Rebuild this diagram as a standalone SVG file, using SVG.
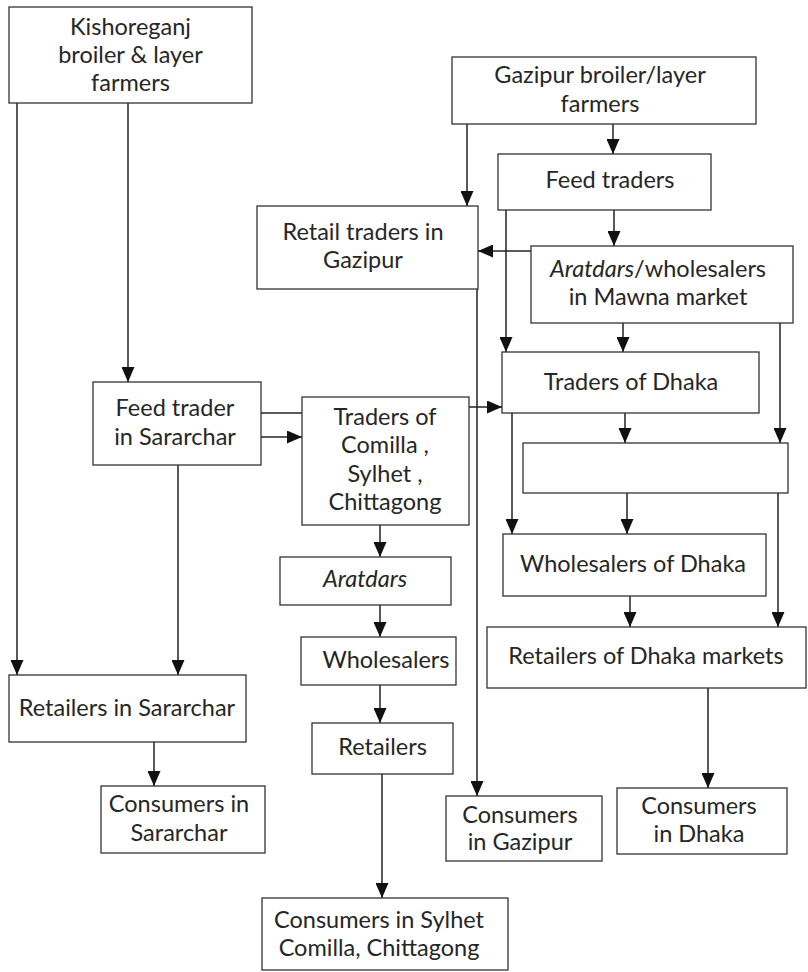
<svg xmlns="http://www.w3.org/2000/svg" width="808" height="972" viewBox="0 0 808 972">
  <style>
    .box { fill: #ffffff; stroke: #333333; stroke-width: 1.3; }
    .lbl { font-family: Lato, "Open Sans", "Liberation Sans", sans-serif; font-weight: 400; font-size: 23.5px; fill: #262626; text-anchor: middle; }
    .it { font-style: italic; }
    .link { fill: none; stroke: #222222; stroke-width: 1.5; }
    .arr { marker-end: url(#head); }
  </style>
  <defs>
    <marker id="head" markerUnits="userSpaceOnUse" markerWidth="15" markerHeight="13" refX="15" refY="6.5" orient="auto">
      <path d="M0,0 L15,6.5 L0,13 z" fill="#111111"/>
    </marker>
  </defs>
  <rect width="808" height="972" fill="#ffffff"/>

  <!-- connectors -->
  <g id="connectors">
    <path class="link arr" d="M17,103 V675"/>
    <path class="link arr" d="M128,103 V382"/>
    <path class="link arr" d="M178,465 V675"/>
    <path class="link arr" d="M261,437 H302"/>
    <path class="link" d="M261,413 H302"/>
    <path class="link arr" d="M469,407 H502"/>
    <path class="link arr" d="M380,525 V557"/>
    <path class="link arr" d="M380,605 V637"/>
    <path class="link arr" d="M380,685 V723"/>
    <path class="link arr" d="M382,774 V898"/>
    <path class="link arr" d="M154,742 V786"/>
    <path class="link arr" d="M467,124 V206"/>
    <path class="link arr" d="M613,124 V154"/>
    <path class="link arr" d="M506,210 V352"/>
    <path class="link arr" d="M614,210 V246"/>
    <path class="link arr" d="M531,251 H478"/>
    <path class="link arr" d="M477,289 V796"/>
    <path class="link arr" d="M623,323 V352"/>
    <path class="link arr" d="M780,323 V443"/>
    <path class="link arr" d="M625,413 V443"/>
    <path class="link arr" d="M512,413 V534"/>
    <path class="link arr" d="M627,493 V534"/>
    <path class="link arr" d="M778,493 V627"/>
    <path class="link arr" d="M630,596 V627"/>
    <path class="link arr" d="M708,688 V788"/>
  </g>

  <g id="kishoreganj-farmers">
    <rect class="box" x="9" y="7" width="243" height="96"/>
    <text class="lbl" x="130.5" y="35">Kishoreganj</text>
    <text class="lbl" x="130.5" y="63">broiler &amp; layer</text>
    <text class="lbl" x="130.5" y="91">farmers</text>
  </g>

  <g id="gazipur-farmers">
    <rect class="box" x="452" y="57" width="304" height="67"/>
    <text class="lbl" x="600" y="83">Gazipur broiler/layer</text>
    <text class="lbl" x="600" y="112">farmers</text>
  </g>

  <g id="feed-traders">
    <rect class="box" x="498" y="154" width="213" height="56"/>
    <text class="lbl" x="610" y="188">Feed traders</text>
  </g>

  <g id="retail-gazipur">
    <rect class="box" x="257" y="206" width="221" height="83"/>
    <text class="lbl" x="363" y="240">Retail traders in</text>
    <text class="lbl" x="363" y="268">Gazipur</text>
  </g>

  <g id="aratdars-mawna">
    <rect class="box" x="531" y="246" width="262" height="77"/>
    <text class="lbl" x="658" y="277"><tspan class="it">Aratdars</tspan>/wholesalers</text>
    <text class="lbl" x="658" y="305">in Mawna market</text>
  </g>

  <g id="traders-dhaka">
    <rect class="box" x="502" y="352" width="257" height="61"/>
    <text class="lbl" x="631" y="390">Traders of Dhaka</text>
  </g>

  <g id="blank-node">
    <rect class="box" x="523" y="443" width="265" height="50"/>
  </g>

  <g id="wholesalers-dhaka">
    <rect class="box" x="503" y="534" width="263" height="62"/>
    <text class="lbl" x="633" y="572">Wholesalers of Dhaka</text>
  </g>

  <g id="retailers-dhaka">
    <rect class="box" x="487" y="627" width="319" height="61"/>
    <text class="lbl" x="646" y="664">Retailers of Dhaka markets</text>
  </g>

  <g id="consumers-dhaka">
    <rect class="box" x="617" y="788" width="170" height="66"/>
    <text class="lbl" x="699" y="814">Consumers</text>
    <text class="lbl" x="699" y="842">in Dhaka</text>
  </g>

  <g id="consumers-gazipur">
    <rect class="box" x="446" y="796" width="156" height="65"/>
    <text class="lbl" x="520" y="823">Consumers</text>
    <text class="lbl" x="520" y="850">in Gazipur</text>
  </g>

  <g id="feed-trader-sararchar">
    <rect class="box" x="93" y="382" width="168" height="83"/>
    <text class="lbl" x="175" y="416">Feed trader</text>
    <text class="lbl" x="175" y="445">in Sararchar</text>
  </g>

  <g id="traders-comilla">
    <rect class="box" x="302" y="397" width="167" height="128"/>
    <text class="lbl" x="385" y="425">Traders of</text>
    <text class="lbl" x="385" y="453">Comilla ,</text>
    <text class="lbl" x="385" y="482">Sylhet ,</text>
    <text class="lbl" x="385" y="510">Chittagong</text>
  </g>

  <g id="aratdars">
    <rect class="box" x="280" y="557" width="171" height="48"/>
    <text class="lbl it" x="365" y="587">Aratdars</text>
  </g>

  <g id="wholesalers">
    <rect class="box" x="301" y="637" width="155" height="48"/>
    <text class="lbl" x="386" y="668">Wholesalers</text>
  </g>

  <g id="retailers">
    <rect class="box" x="312" y="723" width="141" height="51"/>
    <text class="lbl" x="382.5" y="755">Retailers</text>
  </g>

  <g id="retailers-sararchar">
    <rect class="box" x="9" y="675" width="237" height="67"/>
    <text class="lbl" x="127" y="716">Retailers in Sararchar</text>
  </g>

  <g id="consumers-sararchar">
    <rect class="box" x="101" y="786" width="164" height="67"/>
    <text class="lbl" x="179" y="812">Consumers in</text>
    <text class="lbl" x="179" y="841">Sararchar</text>
  </g>

  <g id="consumers-sylhet">
    <rect class="box" x="262" y="898" width="246" height="72"/>
    <text class="lbl" x="379" y="928">Consumers in Sylhet</text>
    <text class="lbl" x="379" y="956">Comilla, Chittagong</text>
  </g>
</svg>
